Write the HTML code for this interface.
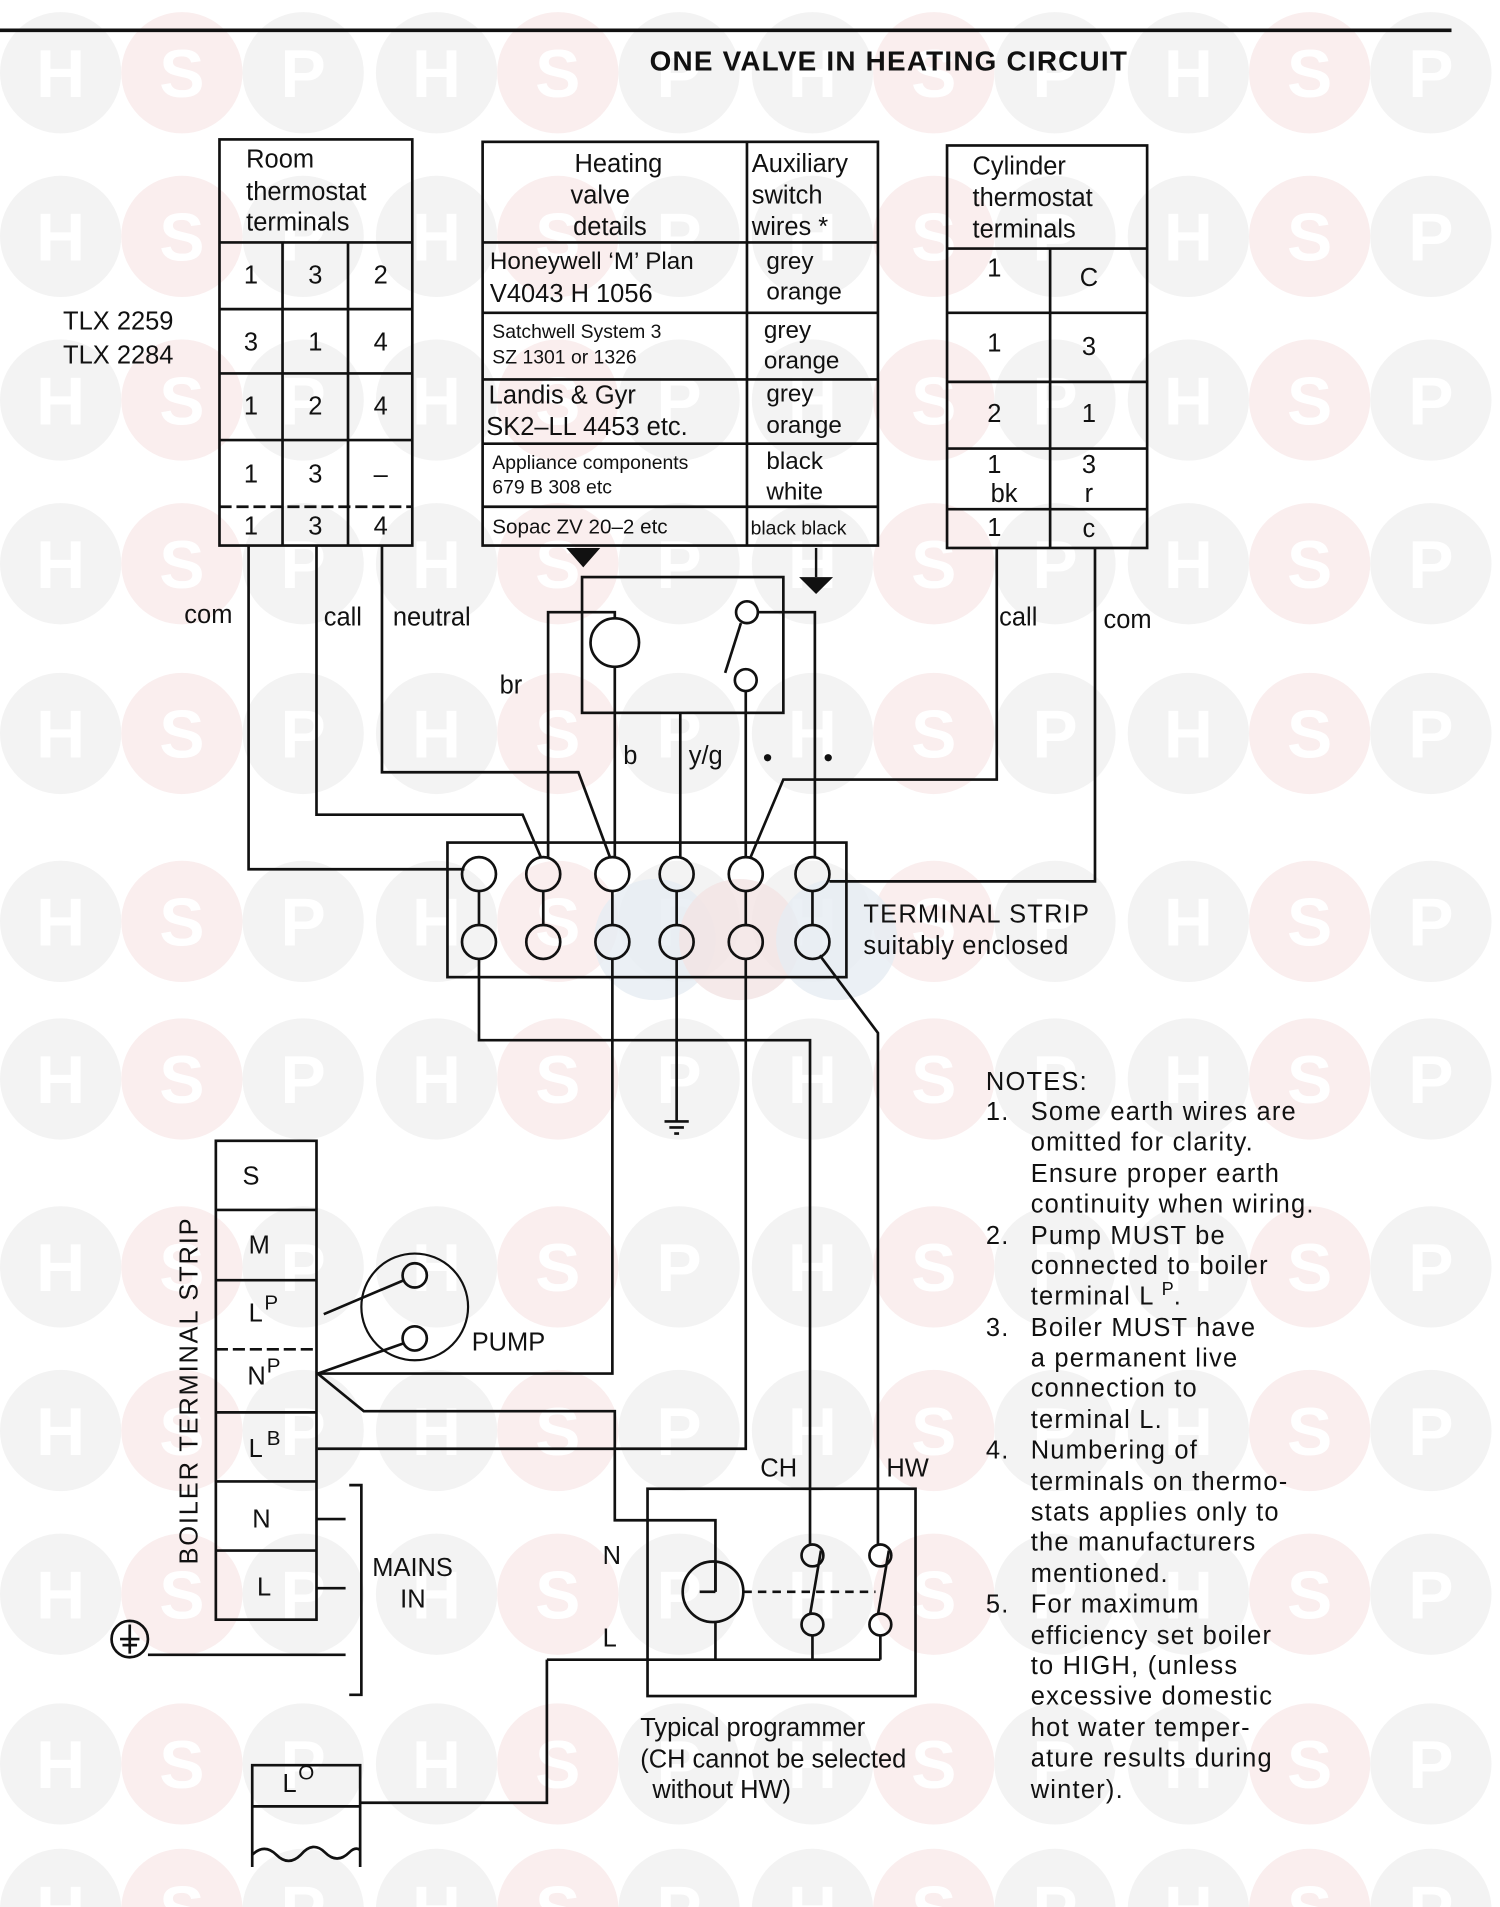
<!DOCTYPE html>
<html><head><meta charset="utf-8"><style>
html,body{margin:0;padding:0;background:#fff;}
svg{display:block;}
text{font-family:"Liberation Sans",sans-serif;fill:#111;}
</style></head><body>
<svg width="1500" height="1907" viewBox="0 0 1237 1573" preserveAspectRatio="none" xmlns="http://www.w3.org/2000/svg">
<defs>
<g id="wh"><circle r="50" fill="#f3f3f3"/><text x="0" y="20" text-anchor="middle" font-size="56" font-weight="bold" style="fill:#fff">H</text></g>
<g id="ws"><circle r="50" fill="#faeeee"/><text x="0" y="20" text-anchor="middle" font-size="56" font-weight="bold" style="fill:#fff">S</text></g>
<g id="wp"><circle r="50" fill="#f3f3f3"/><text x="0" y="20" text-anchor="middle" font-size="56" font-weight="bold" style="fill:#fff">P</text></g>
<g id="row"><use href="#wh" x="50"/><use href="#ws" x="150"/><use href="#wp" x="250"/><use href="#wh" x="360"/><use href="#ws" x="460"/><use href="#wp" x="560"/><use href="#wh" x="670"/><use href="#ws" x="770"/><use href="#wp" x="870"/><use href="#wh" x="980"/><use href="#ws" x="1080"/><use href="#wp" x="1180"/></g>
</defs>
<g id="wm">
<use href="#row" y="60"/><use href="#row" y="195"/><use href="#row" y="330"/><use href="#row" y="465"/><use href="#row" y="605"/><use href="#row" y="760"/><use href="#row" y="890"/><use href="#row" y="1045"/><use href="#row" y="1180"/><use href="#row" y="1315"/><use href="#row" y="1455"/><use href="#row" y="1575"/>
<circle cx="540" cy="775" r="50" fill="#e6ecf2" opacity="0.8"/><circle cx="610" cy="775" r="50" fill="#f3e4e4" opacity="0.8"/><circle cx="690" cy="775" r="50" fill="#e6ecf2" opacity="0.8"/>
</g>

<g stroke="#111" fill="none" stroke-width="2.2">
<line x1="0" y1="25" x2="1197" y2="25" stroke-width="3"/>
<rect x="181" y="115" width="159" height="335"/>
<line x1="181" y1="200" x2="340" y2="200"/>
<line x1="181" y1="255" x2="340" y2="255"/>
<line x1="181" y1="308" x2="340" y2="308"/>
<line x1="181" y1="363" x2="340" y2="363"/>
<line x1="181" y1="418" x2="340" y2="418" stroke-dasharray="10 4"/>
<line x1="233" y1="200" x2="233" y2="450"/>
<line x1="287" y1="200" x2="287" y2="450"/>
<rect x="398" y="117" width="326" height="333"/>
<line x1="616" y1="117" x2="616" y2="450"/>
<line x1="398" y1="200" x2="724" y2="200"/>
<line x1="398" y1="258" x2="724" y2="258"/>
<line x1="398" y1="313" x2="724" y2="313"/>
<line x1="398" y1="366" x2="724" y2="366"/>
<line x1="398" y1="418" x2="724" y2="418"/>
<rect x="781" y="120" width="165" height="332"/>
<line x1="781" y1="205" x2="946" y2="205"/>
<line x1="781" y1="258" x2="946" y2="258"/>
<line x1="781" y1="315" x2="946" y2="315"/>
<line x1="781" y1="370" x2="946" y2="370"/>
<line x1="781" y1="420" x2="946" y2="420"/>
<line x1="866" y1="205" x2="866" y2="452"/>

<rect x="480" y="476" width="166" height="112"/>
<circle cx="507" cy="530" r="20"/>
<circle cx="616" cy="505" r="9"/>
<circle cx="615" cy="561" r="9"/>
<line x1="611" y1="514" x2="598" y2="555"/>
<polyline points="205,450 205,717 383,717"/>
<polyline points="261,450 261,672 431,672 446,707"/>
<polyline points="315,450 315,637 477,637 503,707"/>
<polyline points="507,510 507,505 452,505 452,707"/>
<line x1="507" y1="550" x2="507" y2="707"/>
<line x1="561" y1="588" x2="561" y2="707"/>
<line x1="615" y1="570" x2="615" y2="707"/>
<polyline points="625,505 672,505 672,707"/>
<polyline points="822,452 822,643 646,643 619,707"/>
<polyline points="903,452 903,727 684,727"/>
<rect x="369" y="695" width="329" height="111"/>
<g>
<circle cx="395" cy="721" r="14"/><circle cx="448" cy="721" r="14"/><circle cx="505" cy="721" r="14"/><circle cx="558" cy="721" r="14"/><circle cx="615" cy="721" r="14"/><circle cx="670" cy="721" r="14"/>
<circle cx="395" cy="777" r="14"/><circle cx="448" cy="777" r="14"/><circle cx="505" cy="777" r="14"/><circle cx="558" cy="777" r="14"/><circle cx="615" cy="777" r="14"/><circle cx="670" cy="777" r="14"/>
<line x1="395" y1="735" x2="395" y2="763"/><line x1="448" y1="735" x2="448" y2="763"/><line x1="505" y1="735" x2="505" y2="763"/><line x1="558" y1="735" x2="558" y2="763"/><line x1="615" y1="735" x2="615" y2="763"/><line x1="670" y1="735" x2="670" y2="763"/>
</g>
<polyline points="395,791 395,858 668,858 668,1275"/>
<polyline points="505,791 505,1133 262,1133"/>
<polyline points="558,791 558,925"/>
<line x1="548" y1="925" x2="568" y2="925"/><line x1="552" y1="930" x2="564" y2="930"/><line x1="556" y1="935" x2="560" y2="935"/>
<polyline points="615,791 615,1195 262,1195"/>
<polyline points="676,788 724,852 724,1275"/>
<polyline points="262,1133 300,1164 507,1164 507,1254 590,1254 590,1313"/>
<rect x="178" y="941" width="83" height="395"/>
<line x1="178" y1="998" x2="261" y2="998"/>
<line x1="178" y1="1056" x2="261" y2="1056"/>
<line x1="178" y1="1113" x2="261" y2="1113" stroke-dasharray="10 4"/>
<line x1="178" y1="1165" x2="261" y2="1165"/>
<line x1="178" y1="1222" x2="261" y2="1222"/>
<line x1="178" y1="1279" x2="261" y2="1279"/>
<circle cx="342" cy="1078" r="44" stroke-width="1.8"/>
<circle cx="342" cy="1052" r="10"/><circle cx="342" cy="1104" r="10"/>
<line x1="267" y1="1084" x2="333" y2="1056"/>
<line x1="262" y1="1133" x2="333" y2="1108"/>
<polyline points="288,1225 298,1225 298,1398 288,1398"/>
<line x1="261" y1="1253" x2="285" y2="1253"/>
<line x1="261" y1="1310" x2="285" y2="1310"/>
<circle cx="107" cy="1352" r="15"/>
<line x1="107" y1="1340" x2="107" y2="1364"/><line x1="99" y1="1352" x2="115" y2="1352"/><line x1="101" y1="1357" x2="113" y2="1357"/>
<line x1="122" y1="1365" x2="285" y2="1365"/>
<rect x="534" y="1228" width="221" height="171"/>
<circle cx="588" cy="1313" r="25"/>
<line x1="590" y1="1313" x2="590" y2="1288"/>
<line x1="577" y1="1313" x2="590" y2="1313"/>
<line x1="590" y1="1338" x2="590" y2="1369"/>
<circle cx="670" cy="1283" r="9"/><circle cx="670" cy="1340" r="9"/>
<circle cx="726" cy="1283" r="9"/><circle cx="726" cy="1340" r="9"/>
<line x1="677" y1="1279" x2="668" y2="1332"/>
<line x1="733" y1="1279" x2="724" y2="1332"/>
<line x1="613" y1="1313" x2="722" y2="1313" stroke-dasharray="7 5"/>
<line x1="670" y1="1349" x2="670" y2="1369"/>
<line x1="726" y1="1349" x2="726" y2="1369"/>
<polyline points="451,1369 726,1369"/>
<polyline points="451,1369 451,1487 297,1487"/>
<polyline points="208,1540 208,1456 297,1456 297,1540"/>
<line x1="208" y1="1490" x2="297" y2="1490"/>
<path d="M208,1530 q10,-10 20,0 q10,10 20,0 q10,-12 20,-2 q10,10 20,0 q5,-5 9,-2"/>
</g>
<polygon points="467,452 495,452 481,468" fill="#111"/>
<line x1="673" y1="452" x2="673" y2="476" stroke="#111" stroke-width="2"/>
<polygon points="659,476 687,476 673,490" fill="#111"/>

<g font-size="21">
<text x="733" y="58" text-anchor="middle" font-size="23" font-weight="bold" letter-spacing="1">ONE VALVE IN HEATING CIRCUIT</text>
<text x="203" y="138">Room</text><text x="203" y="165">thermostat</text><text x="203" y="190">terminals</text>
<text x="52" y="272">TLX 2259</text><text x="52" y="300">TLX 2284</text>
<g text-anchor="middle">
<text x="207" y="234">1</text><text x="260" y="234">3</text><text x="314" y="234">2</text>
<text x="207" y="289">3</text><text x="260" y="289">1</text><text x="314" y="289">4</text>
<text x="207" y="342">1</text><text x="260" y="342">2</text><text x="314" y="342">4</text>
<text x="207" y="398">1</text><text x="260" y="398">3</text><text x="314" y="398">–</text>
<text x="207" y="441">1</text><text x="260" y="441">3</text><text x="314" y="441">4</text>
<text x="510" y="142">Heating</text><text x="495" y="168">valve</text><text x="503" y="194">details</text>
<text x="820" y="228">1</text><text x="898" y="236">C</text>
<text x="820" y="290">1</text><text x="898" y="293">3</text>
<text x="820" y="348">2</text><text x="898" y="348">1</text>
<text x="820" y="390">1</text><text x="898" y="390">3</text>
<text x="828" y="414">bk</text><text x="898" y="414">r</text>
<text x="820" y="442">1</text><text x="898" y="443">c</text>
</g>
<text x="620" y="142">Auxiliary</text><text x="620" y="168">switch</text><text x="620" y="194">wires *</text>
<text x="802" y="144">Cylinder</text><text x="802" y="170">thermostat</text><text x="802" y="196">terminals</text>
<text x="404" y="222" font-size="20">Honeywell ‘M’ Plan</text><text x="404" y="249">V4043 H 1056</text>
<text x="632" y="222" font-size="20">grey</text><text x="632" y="247" font-size="20">orange</text>
<text x="406" y="279" font-size="16">Satchwell System 3</text><text x="406" y="300" font-size="16">SZ 1301 or 1326</text>
<text x="630" y="279" font-size="20">grey</text><text x="630" y="304" font-size="20">orange</text>
<text x="403" y="333">Landis &amp; Gyr</text><text x="401" y="359">SK2–LL 4453 etc.</text>
<text x="632" y="331" font-size="20">grey</text><text x="632" y="357" font-size="20">orange</text>
<text x="406" y="387" font-size="16">Appliance components</text><text x="406" y="407" font-size="16">679 B 308 etc</text>
<text x="632" y="387" font-size="20">black</text><text x="632" y="412" font-size="20">white</text>
<text x="406" y="440" font-size="17">Sopac ZV 20–2 etc</text>
<text x="619" y="441" font-size="16">black black</text>

<text x="152" y="514">com</text><text x="267" y="516">call</text><text x="324" y="516">neutral</text>
<text x="412" y="572">br</text>
<text x="514" y="630">b</text><text x="568" y="630">y/g</text>
<circle cx="633" cy="625" r="3" fill="#111"/><circle cx="683" cy="625" r="3" fill="#111"/>
<text x="824" y="516">call</text><text x="910" y="518">com</text>
<text x="712" y="761" letter-spacing="1">TERMINAL STRIP</text>
<text x="712" y="787" letter-spacing="0.5">suitably enclosed</text>

<text x="200" y="977">S</text><text x="205" y="1034">M</text>
<text x="205" y="1090">L</text><text x="218" y="1080" font-size="17">P</text>
<text x="204" y="1142">N</text><text x="220" y="1132" font-size="17">P</text>
<text x="205" y="1202">L</text><text x="220" y="1192" font-size="17">B</text>
<text x="208" y="1260">N</text><text x="212" y="1316">L</text>
<text transform="translate(163,1147) rotate(-90)" text-anchor="middle" letter-spacing="1.5">BOILER TERMINAL STRIP</text>
<text x="389" y="1114">PUMP</text>
<text x="307" y="1300">MAINS</text><text x="330" y="1326">IN</text>
<text x="627" y="1218">CH</text><text x="731" y="1218">HW</text>
<text x="497" y="1290">N</text><text x="497" y="1358">L</text>
<text x="528" y="1432">Typical programmer</text>
<text x="528" y="1458">(CH cannot be selected</text>
<text x="538" y="1483">without HW)</text>
<text x="233" y="1478">L</text><text x="246" y="1468" font-size="17">O</text>

<g letter-spacing="1">
<text x="813" y="899">NOTES:</text>
<text x="813" y="924">1.</text><text x="850" y="924">Some earth wires are</text>
<text x="850" y="949">omitted for clarity.</text>
<text x="850" y="975">Ensure proper earth</text>
<text x="850" y="1000">continuity when wiring.</text>
<text x="813" y="1026">2.</text><text x="850" y="1026">Pump MUST be</text>
<text x="850" y="1051">connected to boiler</text>
<text x="850" y="1076">terminal L</text><text x="958" y="1068" font-size="15">P</text><text x="968" y="1076">.</text>
<text x="813" y="1102">3.</text><text x="850" y="1102">Boiler MUST have</text>
<text x="850" y="1127">a permanent live</text>
<text x="850" y="1152">connection to</text>
<text x="850" y="1178">terminal L.</text>
<text x="813" y="1203">4.</text><text x="850" y="1203">Numbering of</text>
<text x="850" y="1229">terminals on thermo-</text>
<text x="850" y="1254">stats applies only to</text>
<text x="850" y="1279">the manufacturers</text>
<text x="850" y="1305">mentioned.</text>
<text x="813" y="1330">5.</text><text x="850" y="1330">For maximum</text>
<text x="850" y="1356">efficiency set boiler</text>
<text x="850" y="1381">to HIGH, (unless</text>
<text x="850" y="1406">excessive domestic</text>
<text x="850" y="1432">hot water temper-</text>
<text x="850" y="1457">ature results during</text>
<text x="850" y="1483">winter).</text>
</g>
</g>
</svg>
</body></html>
